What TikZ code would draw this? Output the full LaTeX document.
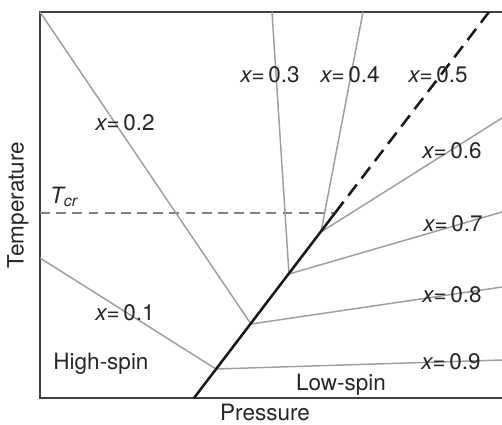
\documentclass[tikz,border=0pt]{standalone}
\usepackage{fontspec}
\setmainfont{TeX Gyre Heros}
\usetikzlibrary{positioning}

\begin{document}
\begin{tikzpicture}[x=0.025cm, y=-0.025cm, font=\fontsize{16}{19}\selectfont,
    every node/.style={text=black!85, inner sep=1pt},
    comp/.style={draw=black!38, line width=1.05pt},
    spinline/.style={draw=black!90, line width=1.8pt},
    lab/.style={fill=none}]
    \useasboundingbox (0,0) rectangle (502,424);

    % frame (open on the right)
    \draw[black!75, line width=0.85pt] (502,12) -- (40,12) -- (40,398) -- (502,398);

    % points on the spin-crossover line
    \coordinate (base) at (194,398);
    \coordinate (j9) at (216,369);
    \coordinate (j8) at (251,324);
    \coordinate (j7) at (289,274);
    \coordinate (j6) at (321,232);
    \coordinate (crit) at (335,213);
    \coordinate (tip) at (489,12);

    % T_cr level
    \coordinate (tl) at (40,213);
    \draw[black!50, line width=0.85pt, dash pattern=on 7pt off 4.5pt] (tl) -- (crit);

    % composition lines, high-spin side
    \draw[comp] (40,258) -- (j9);
    \draw[comp] (40,12) -- (j8);
    \draw[comp] (272,12) -- (j7);
    \draw[comp] (363,12) -- (j6);

    % composition lines, low-spin side
    \draw[comp] (j9) -- (502,360);
    \draw[comp] (j8) -- (502,287);
    \draw[comp] (j7) -- (502,212);
    \draw[comp] (j6) -- (502,118);

    % transition line, solid below T_cr and dashed above
    \draw[spinline] (base) -- (crit);
    \draw[spinline, dash pattern=on 10pt off 5.5pt] (crit) -- (tip);

    % labels
    \node[lab] (x1) at (125,313) {\itshape x\upshape=\,0.1};
    \node[lab] (x2) at (125,123) {\itshape x\upshape=\,0.2};
    \node[lab] (x3) at (270,75) {\itshape x\upshape=\,0.3};
    \node[lab] (x4) at (350,75) {\itshape x\upshape=\,0.4};
    \node[lab] (x5) at (438,75) {\itshape x\upshape=\,0.5};
    \node[lab] (x6) at (452,151) {\itshape x\upshape=\,0.6};
    \node[lab] (x7) at (453,224) {\itshape x\upshape=\,0.7};
    \node[lab] (x8) at (452,295) {\itshape x\upshape=\,0.8};
    \node[lab] (x9) at (451,362) {\itshape x\upshape=\,0.9};
    \node (tcr) at (64,197) {\itshape T\textsubscript{cr}};
    \node (hs) at (101,364) {High-spin};
    \node (ls) at (341,385) {Low-spin};
    \node[rotate=90] (temp) at (18,205) {Temperature};
    \node (pres) at (265,412) {Pressure};
\end{tikzpicture}
\end{document}
